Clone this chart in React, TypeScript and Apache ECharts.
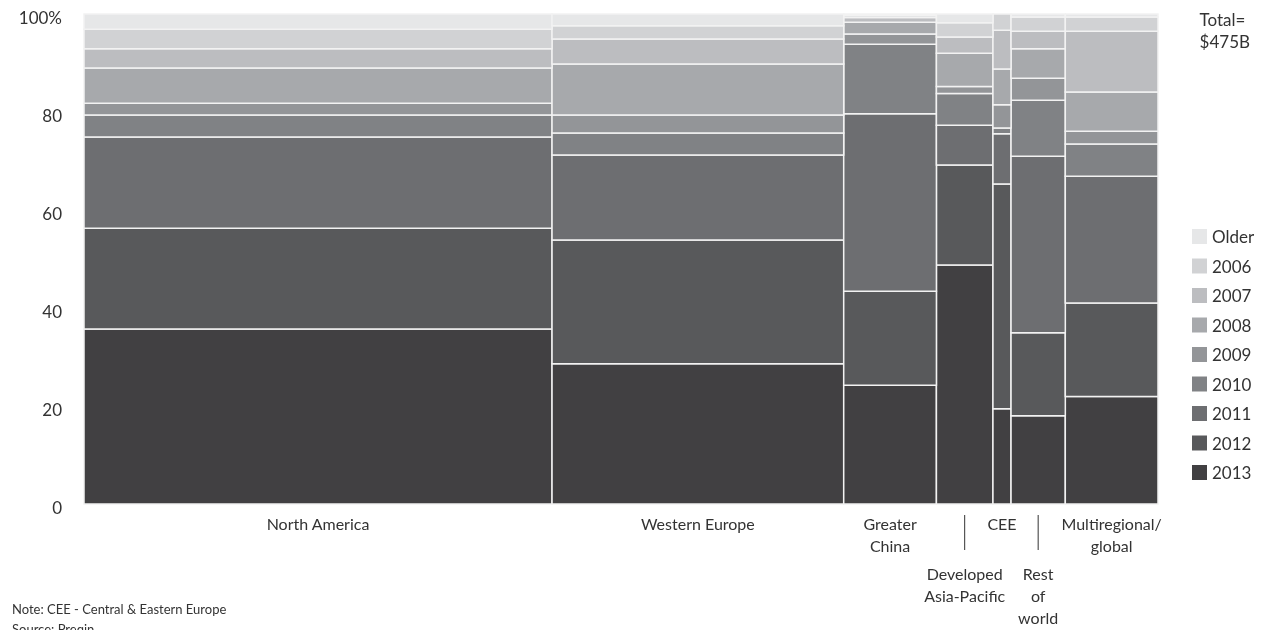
import React, { useEffect, useRef } from "react";
import * as echarts from "echarts";

const regionLabels = [
  "North America",
  "Western Europe",
  "Greater\nChina",
  "Developed\nAsia-Pacific",
  "CEE",
  "Rest\nof\nworld",
  "Multiregional/\nglobal",
];
const labelLowered = [0, 0, 0, 1, 0, 1, 0];
const regionTotals = [207, 129, 41, 25, 8, 24, 41]; // $B, total 475

const yearNames = ["2013", "2012", "2011", "2010", "2009", "2008", "2007", "2006", "Older"];
const v2013 = [35.7, 28.6, 24.3, 48.8, 19.4, 18.0, 21.9];
const v2012 = [20.6, 25.3, 19.2, 20.4, 45.8, 16.9, 19.1];
const v2011 = [18.6, 17.3, 36.3, 8.1, 10.2, 36.0, 25.8];
const v2010 = [4.5, 4.5, 14.2, 6.5, 1.2, 11.4, 6.6];
const v2009 = [2.4, 3.7, 2.1, 1.4, 4.7, 4.5, 2.6];
const v2008 = [7.2, 10.4, 2.4, 6.8, 7.3, 6.0, 8.0];
const v2007 = [3.9, 5.1, 1.0, 3.3, 7.9, 3.6, 12.4];
const v2006 = [4.0, 2.7, 0.4, 2.9, 3.3, 2.9, 2.9];
const vOlder = [3.1, 2.4, 0.3, 1.8, 0.0, 0.6, 0.6];
const yearValues = [v2013, v2012, v2011, v2010, v2009, v2008, v2007, v2006, vOlder];
const yearColors = ["#414042", "#58595B", "#6D6E71", "#808285", "#939598", "#A7A9AC", "#BCBDC0", "#D1D2D4", "#E6E7E8"];
const yTicks = [0, 20, 40, 60, 80, 100];

const FONT = "Lato, 'Open Sans', sans-serif";
const TEXT = "#333333";

export default function App() {
  const ref = useRef<HTMLDivElement>(null);
  useEffect(() => {
    if (!ref.current) return;
    const chart = echarts.init(ref.current, undefined, { renderer: "svg" });

    const total = regionTotals.reduce((a, b) => a + b, 0);
    const xStarts: number[] = [];
    let acc = 0;
    regionTotals.forEach((t) => {
      xStarts.push(acc);
      acc += t;
    });
    const colSums = regionTotals.map((_, r) =>
      yearValues.reduce((s, arr) => s + arr[r], 0)
    );
    const cum = regionTotals.map(() => 0);

    const rectSeries = yearNames.map((name, yi) => {
      const data = regionTotals.map((t, r) => {
        const h = (yearValues[yi][r] / colSums[r]) * 100;
        const y0 = cum[r];
        cum[r] += h;
        return [xStarts[r], xStarts[r] + t, y0, y0 + h];
      });
      return {
        type: "custom",
        name,
        itemStyle: { color: yearColors[yi] },
        data,
        renderItem: (params: any, api: any) => {
          const x0 = api.value(0), x1 = api.value(1), y0 = api.value(2), y1 = api.value(3);
          if (y1 - y0 <= 0) return null;
          const p0 = api.coord([x0, y0]);
          const p1 = api.coord([x1, y1]);
          return {
            type: "rect",
            shape: { x: p0[0], y: p1[1], width: p1[0] - p0[0], height: p0[1] - p1[1] },
            style: { fill: api.visual("color"), stroke: "#F2F2F2", lineWidth: 1.5 },
          };
        },
      };
    });

    const labelSeries = {
      type: "custom",
      name: "labels",
      silent: true,
      data: regionTotals.map((t, r) => [xStarts[r], xStarts[r] + t, r]),
      renderItem: (params: any, api: any) => {
        const x0 = api.value(0), x1 = api.value(1), r = api.value(2);
        const p = api.coord([(x0 + x1) / 2, 0]);
        const low = labelLowered[r] === 1;
        const children: any[] = [];
        if (low) {
          children.push({
            type: "line",
            shape: { x1: p[0], y1: p[1] + 11, x2: p[0], y2: p[1] + 46 },
            style: { stroke: TEXT, lineWidth: 1 },
          });
        }
        children.push({
          type: "text",
          style: {
            text: regionLabels[r],
            x: p[0],
            y: p[1] + (low ? 58 : 8),
            fill: TEXT,
            fontSize: 16,
            fontFamily: FONT,
            lineHeight: 22,
            align: "center",
            verticalAlign: "top",
            textAlign: "center",
            textVerticalAlign: "top",
          },
        });
        return { type: "group", children };
      },
    };

    chart.setOption({
      animation: false,
      grid: { left: 84, right: 110, top: 14, bottom: 126 },
      xAxis: { type: "value", min: 0, max: total, show: false },
      yAxis: {
        type: "value",
        min: yTicks[0],
        max: yTicks[yTicks.length - 1],
        interval: 20,
        axisLine: { show: false },
        axisTick: { show: false },
        splitLine: { show: false },
        axisLabel: {
          margin: 22,
          color: TEXT,
          fontSize: 17,
          fontFamily: FONT,
          formatter: (v: number) => "{v|" + (v === 100 ? "100%" : String(v)) + "}",
          rich: {
            v: {
              color: TEXT,
              fontSize: 17,
              fontFamily: FONT,
              padding: [7, 0, 0, 0],
            },
          },
        },
      },
      legend: {
        orient: "vertical",
        left: 1187,
        top: 223,
        itemWidth: 15,
        itemHeight: 15,
        itemGap: 12.5,
        icon: "rect",
        data: yearNames.slice().reverse(),
        textStyle: { color: TEXT, fontSize: 17, fontFamily: FONT, padding: [0, 0, 0, 0] },
        selectedMode: false,
      },
      graphic: [
        {
          type: "text",
          right: 18,
          top: 8,
          style: {
            text: "Total=\n$475B",
            fill: TEXT,
            fontSize: 17,
            fontFamily: FONT,
            lineHeight: 22,
            align: "right",
          },
        },
        {
          type: "text",
          left: 12,
          top: 599,
          style: {
            text: "Note: CEE - Central & Eastern Europe\nSource: Preqin",
            fill: TEXT,
            fontSize: 13,
            fontFamily: FONT,
            lineHeight: 20,
          },
        },
      ],
      series: [...rectSeries, labelSeries],
    });
    return () => chart.dispose();
  }, []);
  return (
    <div
      ref={ref}
      style={{ position: "fixed", left: 0, top: 0, width: 1268, height: 630 }}
    />
  );
}
